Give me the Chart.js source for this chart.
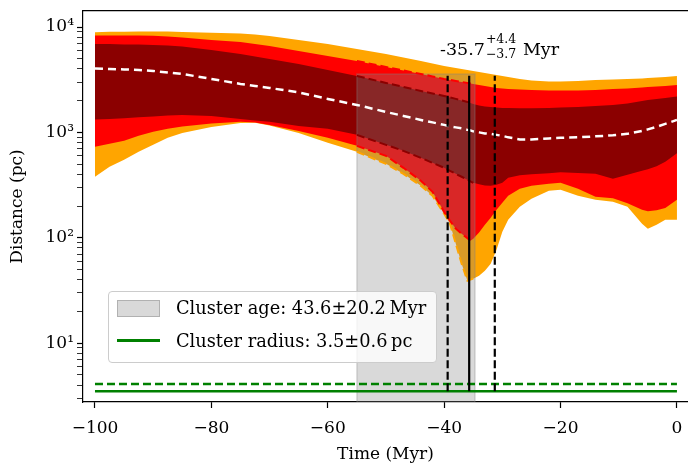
<!DOCTYPE html>
<html>
<head>
<meta charset="utf-8">
<script src="https://cdn.jsdelivr.net/npm/chart.js@4/dist/chart.umd.min.js"></script>
<style>
  html, body { margin: 0; padding: 0; background: #fff; }
  #wrap { position: relative; width: 688px; height: 468px; font-family: 'DejaVu Serif', serif; color: #000; }
  #legend {
    position: absolute; left: 108px; top: 291px; width: 327px; height: 70px;
    background: rgba(255, 255, 255, 0.8); border: 1px solid #cccccc; border-radius: 4px;
    font-size: 17.8px; line-height: 20px; white-space: nowrap;
  }
  #legend .patch { position: absolute; left: 8px; top: 8px; width: 41px; height: 15px;
    background: rgba(128, 128, 128, 0.3); border: 1px solid rgba(128, 128, 128, 0.45); }
  #legend .line { position: absolute; left: 8px; top: 47px; width: 43px; height: 3px; background: #008000; }
  #legend .t1 { position: absolute; left: 67px; top: 6px; }
  #legend .t2 { position: absolute; left: 67px; top: 39px; }
  #note { position: absolute; left: 440px; top: 39px; font-size: 17.5px; line-height: 20px; white-space: nowrap; }
  #note .scr { display: inline-block; position: relative; width: 38px; height: 20px; vertical-align: top; }
  #note .scr span { position: absolute; left: 1px; font-size: 12.5px; line-height: 12px; }
  #note .sup { top: -6px; }
  #note .sub { top: 9px; }
</style>
</head>
<body>
<div id="wrap">
  <canvas id="myChart" width="688" height="468"></canvas>
  <div id="legend">
    <div class="patch"></div><div class="t1">Cluster age: 43.6±20.2&#8201;Myr</div>
    <div class="line"></div><div class="t2">Cluster radius: 3.5±0.6&#8201;pc</div>
  </div>
  <div id="note">-35.7<span class="scr"><span class="sup">+4.4</span><span class="sub">−3.7</span></span>Myr</div>
</div>
<script>
// time grid (Myr) and the percentile envelopes of the distance (pc)
const times = [-100, -97.5, -95, -92.5, -90, -87.5, -85, -80, -75, -72.5,
  -70, -65, -60, -55, -50, -47, -44, -42, -40, -39,
  -38, -37, -36, -35.5, -35, -34, -33, -32, -31, -30,
  -29, -27, -25, -22, -20, -17, -14, -11, -8.5, -6,
  -5, -3.5, -2, 0];
const orangeHigh = [8910, 9005, 9025, 9065, 9065, 9045, 8965, 8830, 8680, 8490,
  8215, 7530, 6900, 6190, 5550, 5140, 4760, 4510, 4270, 4180,
  4090, 4000, 3910, 3870, 3830, 3750, 3660, 3590, 3510, 3430,
  3360, 3215, 3110, 3045, 3045, 3080, 3145, 3180, 3215, 3250,
  3285, 3320, 3360, 3430];
const redHigh = [8305, 8305, 8305, 8305, 8270, 8130, 7950, 7530, 7210, 6900,
  6600, 5920, 5310, 4760, 4180, 3870, 3585, 3395, 3215, 3146,
  3078, 3011, 2946, 2914, 2882, 2819, 2759, 2699, 2641, 2613,
  2584, 2557, 2528, 2501, 2501, 2501, 2528, 2584, 2613, 2670,
  2699, 2729, 2759, 2819];
const darkHigh = [6900, 6900, 6826, 6826, 6751, 6677, 6534, 6053, 5548, 5253,
  4973, 4460, 3914, 3432, 2946, 2699, 2474, 2342, 2218, 2147,
  2078, 2011, 1946, 1904, 1863, 1803, 1764, 1745, 1726, 1707,
  1707, 1696, 1696, 1707, 1726, 1745, 1783, 1822, 1883, 1989,
  2033, 2078, 2124, 2194];
const median = [4043, 4000, 3957, 3914, 3829, 3705, 3585, 3215, 2882, 2759,
  2641, 2394, 2078, 1822, 1564, 1433, 1313, 1244, 1178, 1140,
  1115, 1091, 1056, 1045, 1022, 1000, 978, 968, 947, 927,
  897, 858, 858, 877, 887, 897, 917, 937, 968, 1033,
  1068, 1127, 1204, 1313];
const darkLow = [1328, 1343, 1358, 1388, 1418, 1449, 1465, 1433, 1343, 1299,
  1258, 1152, 1080, 947, 761, 668, 573, 514, 461, 432,
  404, 379, 355, 343, 332, 321, 314, 311, 318, 332,
  370, 391, 400, 409, 418, 411, 404, 362, 396, 432,
  446, 476, 525, 632];
const redLow = [729, 778, 831, 927, 1011, 1080, 1140, 1217, 1258, 1244,
  1178, 1033, 887, 745, 599, 461, 347, 273, 176, 145,
  122, 109, 98.9, 93.7, 97.8, 112, 133, 155, 184, 215,
  250, 291, 311, 325, 332, 291, 245, 237, 212, 184,
  178, 182, 192, 229];
const orangeLow = [379, 471, 549, 653, 761, 887, 989, 1127, 1230, 1235,
  1160, 989, 795, 653, 503, 404, 311, 250, 169, 136,
  87.7, 56.7, 39.1, 40.0, 40.9, 43.6, 48.7, 56.7, 76.9, 114,
  148, 197, 234, 279, 285, 250, 229, 219, 197, 136,
  122, 133, 148, 148];

// cluster age span, encounter time and cluster radius
const ageStart = -55, ageEnd = -34.7, ageTop = 3580;
const boxTimes = [ageStart, ageStart, ageEnd, ageEnd];
const boxDist = [2.5, ageTop, ageTop, 2.5];
const encounter = -35.7, encounterLow = -39.4, encounterHigh = -31.3;
const encounterDist = [3.5, 3450];
const radiusTimes = [-100, 0];
const radius = 3.5, radiusUpper = 4.1;

const xTicks = [-100, -80, -60, -40, -20, 0];
const yMajor = [10, 100, 1000, 10000];
const yTickLabels = ['10¹', '10²', '10³', '10⁴'];
const yMinor = [3, 4, 5, 6, 7, 8, 9, 20, 30, 40, 50, 60, 70, 80, 90,
  200, 300, 400, 500, 600, 700, 800, 900, 2000, 3000, 4000, 5000, 6000, 7000, 8000, 9000];

const pts = (xs, ys) => xs.map((x, i) => ({ x: x, y: ys[i] }));
const inAge = (ys) => pts(times, ys).filter(p => p.x >= ageStart && p.x <= ageEnd);
const noLine = 'rgba(0,0,0,0)';
const base = { pointRadius: 0, pointHoverRadius: 0, tension: 0, fill: false };

const ORANGE = '#ffa500', RED = '#ff0000', DARKRED = '#8b0000';

const edge = (ys, color) => Object.assign({}, base, {
  data: inAge(ys), borderColor: color, borderWidth: 2, borderDash: [8, 4]
});
const band = (ys, color, top) => Object.assign({}, base, {
  data: pts(times, ys), borderColor: noLine, borderWidth: 0,
  backgroundColor: color, fill: top ? '+1' : false
});
const vline = (t, dash) => Object.assign({}, base, {
  data: pts([t, t], encounterDist), borderColor: '#000', borderWidth: 2.2, borderDash: dash
});

const datasets = [
  vline(encounter, []),
  vline(encounterLow, [8, 3.5]),
  vline(encounterHigh, [8, 3.5]),
  Object.assign({}, base, { data: pts(radiusTimes, [radius, radius]), borderColor: '#008000', borderWidth: 2.5 }),
  Object.assign({}, base, { data: pts(radiusTimes, [radiusUpper, radiusUpper]), borderColor: '#008000', borderWidth: 2.5, borderDash: [8, 4] }),
  Object.assign({}, base, { data: pts(times, median), borderColor: '#fff', borderWidth: 2.5, borderDash: [8, 5] }),
  edge(darkHigh, DARKRED), edge(darkLow, DARKRED),
  edge(redHigh, RED), edge(redLow, RED),
  edge(orangeLow, ORANGE),
  Object.assign({}, base, { data: pts(boxTimes, boxDist), borderColor: 'rgba(128,128,128,0.3)', borderWidth: 1.5,
    backgroundColor: 'rgba(128,128,128,0.3)', fill: 'start' }),
  band(darkHigh, DARKRED, true), band(darkLow, DARKRED, false),
  band(redHigh, RED, true), band(redLow, RED, false),
  band(orangeHigh, ORANGE, true), band(orangeLow, ORANGE, false)
];

const font = { family: 'DejaVu Serif', size: 17 };
const xMin = -102.06, xMax = 1.9;

// keep the plot frame fixed, whatever the label sizes are
const noPad = (s) => { s.paddingLeft = 0; s.paddingRight = 0; s.paddingTop = 0; s.paddingBottom = 0; };

const config = {
  type: 'line',
  data: { datasets: datasets },
  options: {
    responsive: false,
    devicePixelRatio: 1,
    animation: false,
    events: [],
    layout: { padding: { top: 11, right: 0, left: 0, bottom: 0 } },
    plugins: {
      legend: { display: false },
      tooltip: { enabled: false },
      filler: { drawTime: 'beforeDatasetsDraw' }
    },
    scales: {
      x: {
        type: 'linear', min: xMin, max: xMax,
        afterBuildTicks: (s) => { s.ticks = xTicks.map(v => ({ value: v })); },
        afterFit: (s) => { s.height = 66; noPad(s); },
        ticks: { font: font, color: '#000', padding: 10, maxRotation: 0,
          callback: (v) => (v < 0 ? '−' + Math.abs(v) : String(v)) },
        grid: { drawOnChartArea: false, tickLength: 6, tickColor: '#000', tickWidth: 1.2 },
        border: { display: true, color: '#000', width: 1.2 },
        title: { display: true, text: 'Time (Myr)', font: font, color: '#000', padding: { top: 0, bottom: 3 } }
      },
      top: {
        type: 'linear', position: 'top', min: xMin, max: xMax,
        ticks: { display: false }, grid: { display: false },
        border: { display: true, color: '#000', width: 1.2 },
        afterFit: (s) => { s.height = 0; noPad(s); }
      },
      y: {
        type: 'logarithmic', min: 2.76, max: 14190,
        afterBuildTicks: (s) => {
          s.ticks = yMinor.concat(yMajor).sort((a, b) => a - b).map(v => ({ value: v, major: yMajor.includes(v) }));
        },
        afterFit: (s) => { s.width = 83; noPad(s); },
        ticks: { font: font, color: '#000', padding: 3, autoSkip: false,
          callback: (v) => { const i = yMajor.indexOf(v); return i >= 0 ? yTickLabels[i] : ''; } },
        grid: { drawOnChartArea: false, tickLength: 6, tickColor: '#000',
          tickWidth: (c) => (c.tick && yMajor.includes(c.tick.value) ? 1.2 : 0.8) },
        border: { display: true, color: '#000', width: 1.2 },
        title: { display: true, text: 'Distance (pc)', font: font, color: '#000', padding: { top: 7, bottom: 0 } }
      }
    }
  }
};

const myChart = new Chart(document.getElementById('myChart'), config);
</script>
</body>
</html>
